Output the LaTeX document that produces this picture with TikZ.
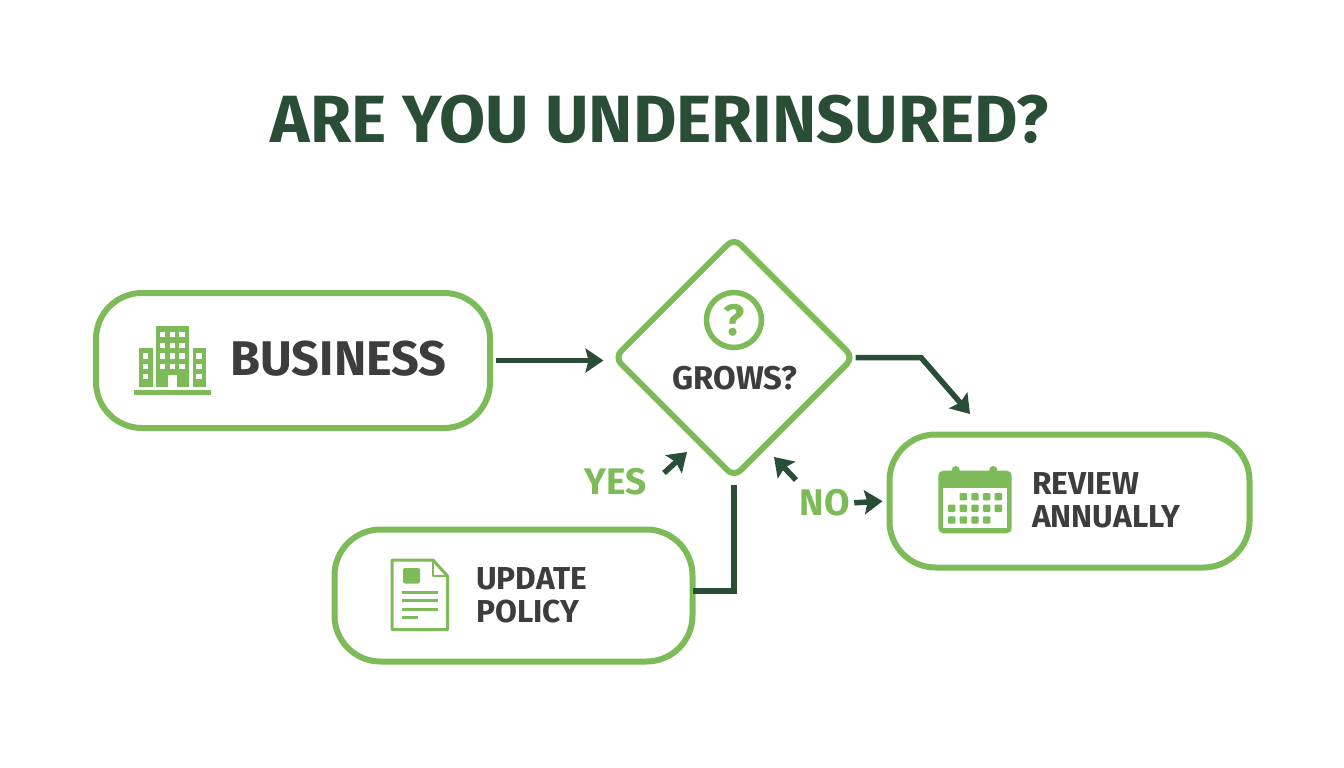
\documentclass[tikz,border=0pt]{standalone}
\usepackage{fontspec}
\setmainfont{Fira Sans}
\usetikzlibrary{arrows.meta,shapes.geometric}
\definecolor{leaf}{HTML}{7DBB58}
\definecolor{pine}{HTML}{2A4D35}
\definecolor{ink}{HTML}{3E3D3E}
\def\flownode{\node[rectangle,draw=leaf,line width=6pt,rounded corners=46pt,inner sep=0pt]}
\def\labelnode{\node[text=ink,align=left,inner sep=0pt,font=\fontsize{31.7}{33}\selectfont\bfseries]}
\def\answernode{\node[text=leaf,inner sep=0pt,font=\fontsize{37}{37}\selectfont\bfseries]}
\begin{document}
\begin{tikzpicture}[x=1pt,y=-1pt,
  flow/.style={draw=pine,line width=5.5pt},
  tip/.style={-{Stealth[length=18pt,width=24pt,inset=3pt]}},
  pane/.style={fill=white,draw=none},
  dot/.style={fill=leaf,draw=none,rounded corners=1pt}]
\useasboundingbox (0,0) rectangle (1344,768);
\node[text=pine,inner sep=0pt,font=\fontsize{66.8}{66.8}\selectfont\bfseries] (title) at (660,119) {ARE YOU UNDERINSURED?};
% boxes
\flownode[minimum width=394pt,minimum height=135pt] (business) at (293,360.5) {};
\flownode[minimum width=358pt,minimum height=132pt] (update) at (513.5,595.5) {};
\flownode[minimum width=360pt,minimum height=133pt] (review) at (1069.5,501) {};
\node[diamond,aspect=1,draw=leaf,line width=6pt,rounded corners=9pt,inner sep=0pt,minimum width=241pt,minimum height=241pt] (grows) at (734,357.5) {};
% texts
\node[text=ink,inner sep=0pt,font=\fontsize{48.7}{48.7}\selectfont\bfseries] (businesstext) at (338.5,359) {BUSINESS};
\labelnode[anchor=west] (updatetext) at (476,595.5) {UPDATE\\POLICY};
\labelnode[anchor=west] (reviewtext) at (1032,500.5) {REVIEW\\ANNUALLY};
\node[text=ink,inner sep=0pt,font=\fontsize{32.8}{32.8}\selectfont\bfseries] (growstext) at (735,378) {GROWS?};
\node[circle,draw=leaf,line width=5.5pt,minimum size=55pt,inner sep=0pt,text=leaf,font=\fontsize{44}{44}\selectfont\bfseries] (mark) at (734,320) {?};
\answernode (yes) at (616,482) {YES};
\answernode (no) at (825,503) {NO};
% connectors
\coordinate (bend) at (921,357.5);
\coordinate (reviewin) at (970,414);
\coordinate (updateout) at (693,591);
\coordinate (yestail) at (664,473);
\coordinate (yestip) at (687,452);
\coordinate (notail) at (796,480);
\coordinate (notip) at (774,457);
\draw[flow,tip,shorten <=3pt,shorten >=7pt] (business.east) -- (business.east -| grows.west);
\draw[flow,tip,shorten <=-2pt] (grows.east) -- (bend) -- (reviewin);
\draw[flow,shorten >=4pt] (updateout) -| (grows.south);
\draw[flow,tip] (yestail) to (yestip);
\draw[flow,tip] (notail) to (notip);
\draw[flow,tip,shorten <=4pt,shorten >=4pt] (no.east) to (review.west);
% building
\fill[leaf] (134,390) rectangle (211,395);
\fill[leaf] (156,326) rectangle (189,387);
\fill[leaf] (139,348) rectangle (152.5,387);
\fill[leaf] (193,348) rectangle (206,387);
\fill[pane] (167.7,375) rectangle (176.8,387);
\foreach \wx in {162.7,172.3,182} \foreach \wy in {334.3,345.3,356,366.3}
  \fill[pane] (\wx-2.7,\wy-2.7) rectangle (\wx+2.7,\wy+2.7);
\foreach \wx in {145.7,199} \foreach \wy in {356,366.3,376.3}
  \fill[pane] (\wx-2.7,\wy-2.7) rectangle (\wx+2.7,\wy+2.7);
% document
\draw[leaf,line width=3pt,line join=round] (392,560) -- (433,560) -- (447.5,576) -- (447.5,629.5) -- (392,629.5) -- cycle;
\draw[leaf,line width=2.5pt,line join=round] (433,560) -- (433,576) -- (447.5,576);
\fill[leaf,rounded corners=2pt] (403,568) rectangle (420,583.5);
\foreach \ly/\lx in {592.3/437.7,600.3/437.7,609/437.7,617.3/417.7}
  \draw[leaf,line width=3pt] (401.7,\ly) -- (\lx,\ly);
% calendar
\fill[leaf] (955.7,470) circle (4pt);
\fill[leaf] (993.3,470) circle (4pt);
\fill[leaf,rounded corners=5pt] (938.3,470.7) rectangle (1011.7,533.3);
\fill[pane] (943.3,487.7) rectangle (1006.7,528.3);
\foreach \cx in {963.3,975,986.7,998.3}
  \fill[dot] (\cx-3.7,493) rectangle (\cx+3.7,500.4);
\foreach \cx in {951.7,963.3,975,986.7,998.3}
  \fill[dot] (\cx-3.7,504.6) rectangle (\cx+3.7,512);
\foreach \cx in {951.7,963.3,975,986.7}
  \fill[dot] (\cx-3.7,516.3) rectangle (\cx+3.7,523.7);
\end{tikzpicture}
\end{document}
